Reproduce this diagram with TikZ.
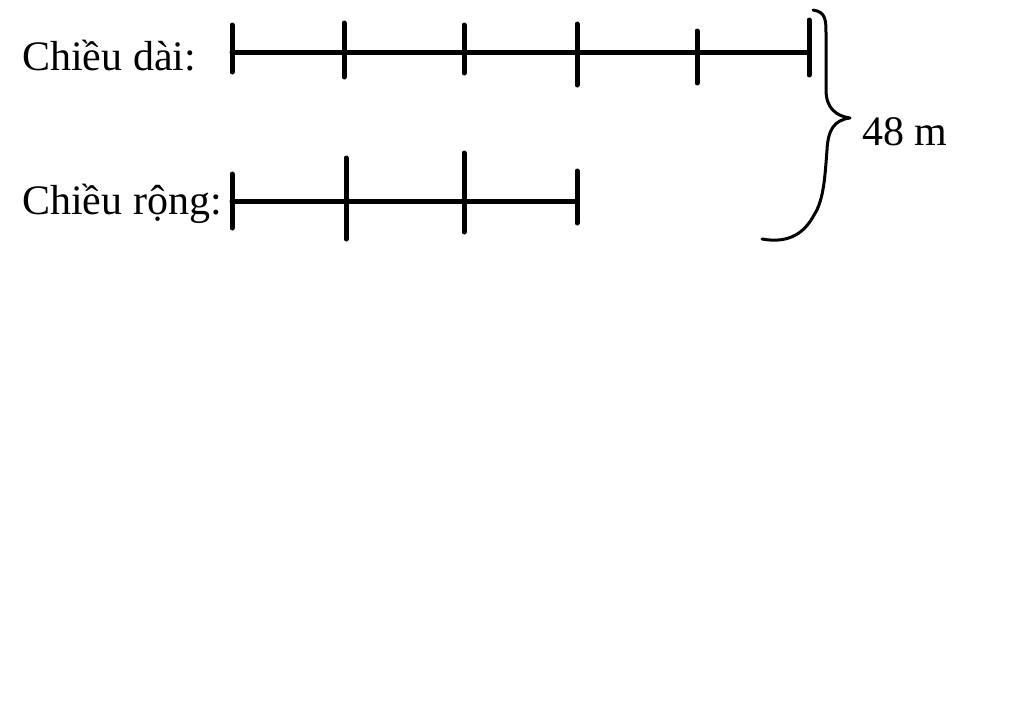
\documentclass[tikz,border=0pt]{standalone}
\usepackage{fontspec}
\setmainfont{Liberation Serif}
\begin{document}
\begin{tikzpicture}[x=1pt,y=-1pt,
  lbl/.style={anchor=base west,inner sep=0pt,font=\fontsize{42}{48}\selectfont},
  bar/.style={line width=5pt,line cap=round},
  tickmark/.style={line width=5pt,line cap=round},
  bracestroke/.style={line width=3pt,line cap=round,line join=round}]
\useasboundingbox (0,0) rectangle (1024,724);
\fill[white] (0,0) rectangle (1024,724);
% labels
\node[lbl] (ld) at (22,70) {Chiều dài:};
\node[lbl] (lr) at (22,214) {Chiều rộng:};
\node[lbl] (lm) at (862,145) {48 m};
% length bar
\coordinate (a0) at (232,52);
\coordinate (a5) at (809,52);
\draw[bar] (a0) -- (a5);
\draw[tickmark] (232,25) -- (232,72);
\draw[tickmark] (344,23) -- (344,77);
\draw[tickmark] (464,25) -- (464,73);
\draw[tickmark] (577,24) -- (577,85);
\draw[tickmark] (697,31) -- (697,83);
\draw[tickmark] (809,20) -- (809,75);
% width bar
\coordinate (b0) at (232,201);
\coordinate (b3) at (577,201);
\draw[bar] (b0) -- (b3);
\draw[tickmark] (232,174) -- (232,228);
\draw[tickmark] (346,158) -- (346,239);
\draw[tickmark] (464,153) -- (464,232);
\draw[tickmark] (577,171) -- (577,223);
% brace
\coordinate (bt) at (813,10);
\coordinate (bp) at (850,118);
\coordinate (bb) at (762,239);
\draw[bracestroke] (bt) .. controls (826,12) and (826,20) .. (826,35)
  -- (826,90) .. controls (826,108) and (836,116) .. (bp)
  .. controls (834,120) and (828,130) .. (827,150)
  .. controls (825,175) and (824,200) .. (814,215)
  .. controls (805,232) and (790,244) .. (bb);
\end{tikzpicture}
\end{document}
